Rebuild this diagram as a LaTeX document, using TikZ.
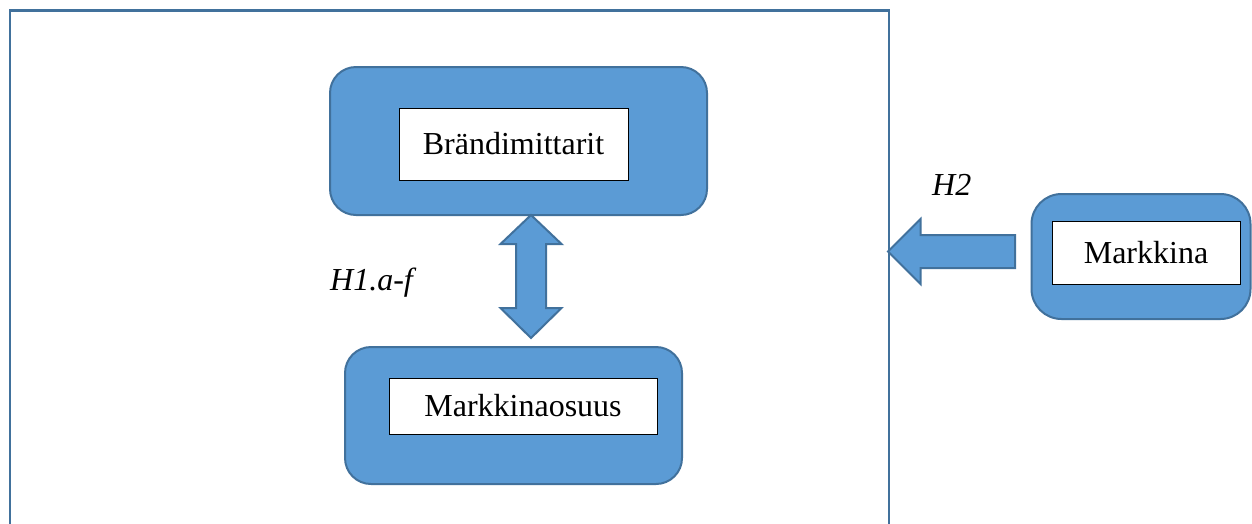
\documentclass[tikz,border=0pt]{standalone}
\usepackage{fontspec}
\setmainfont{Liberation Serif}
\definecolor{boxfill}{HTML}{5B9BD5}
\definecolor{boxline}{HTML}{41719C}
\tikzset{
  x=1pt, y=-1pt,
  bluebox/.style={draw=boxline, fill=boxfill, line width=2pt, rounded corners=26pt, inner sep=0pt},
  whitebox/.style={draw=black, fill=white, line width=1pt, inner sep=0pt, font=\fontsize{32}{37}\selectfont},
  blockarrow/.style={draw=boxline, fill=boxfill, line width=2pt, line join=miter},
  lab/.style={font=\fontsize{32}{37}\selectfont\itshape, inner sep=0pt}
}
\begin{document}
\begin{tikzpicture}
\useasboundingbox (0,0) rectangle (1252,523);
\clip (0,0) rectangle (1252,523);
\fill[white] (0,0) rectangle (1252,523);
% frame
\node[draw=boxline, line width=2.5pt, minimum width=879pt, minimum height=560pt, inner sep=0pt, anchor=north west] (frame) at (8.5,9) {};
% boxes
\node[bluebox, minimum width=377pt, minimum height=148pt] (brand) at (518.5,141) {};
\node[whitebox, minimum width=229pt, minimum height=72pt] (brandt) at (513.5,144) {Brändimittarit};
\node[bluebox, minimum width=337pt, minimum height=137pt] (share) at (513.5,415.5) {};
\node[whitebox, minimum width=268pt, minimum height=56pt] (sharet) at (523,406) {Markkinaosuus};
\node[bluebox, minimum width=219pt, minimum height=125pt, rounded corners=30pt] (mkt) at (1141,256.5) {};
\node[whitebox, minimum width=188pt, minimum height=63pt] (mktt) at (1146,253) {Markkina};
% double arrow between brand and share
\draw[blockarrow] (531,215) -- (561.5,244) -- (546,244) -- (546,308) -- (561.5,308) -- (531,338)
  -- (500.5,308) -- (516,308) -- (516,244) -- (500.5,244) -- cycle;
% left arrow from mkt to frame
\draw[blockarrow] (888,251.5) -- (920.5,219) -- (920.5,235) -- (1015,235) -- (1015,268) -- (920.5,268) -- (920.5,284) -- cycle;
% labels
\node[lab, anchor=base west] (h2) at (932,195) {H2};
\node[lab, anchor=base west] (h1) at (330,290) {H1.a-f};
\end{tikzpicture}
\end{document}
